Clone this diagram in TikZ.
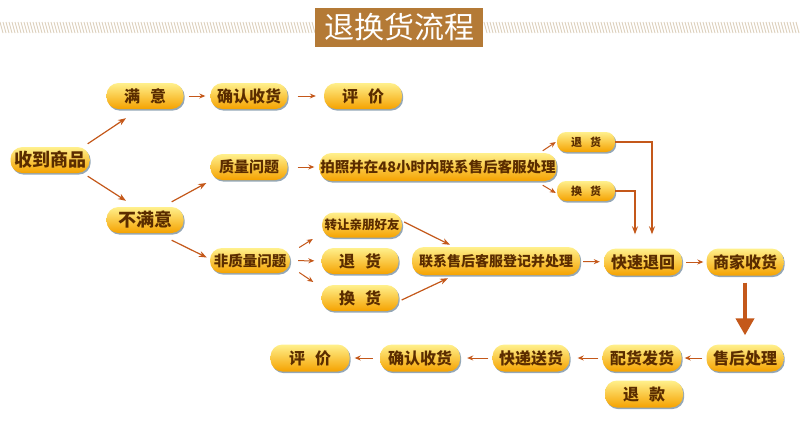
\documentclass[tikz,border=0pt]{standalone}
\usepackage{fontspec}
\setmainfont{Noto Sans CJK SC}
\usetikzlibrary{arrows.meta,shadows}
\definecolor{titlebrown}{HTML}{B47A36}
\definecolor{stripetan}{HTML}{DDD0BC}
\definecolor{pilltop}{HTML}{FFF08C}
\definecolor{pillmid}{HTML}{FFD22A}
\definecolor{pillbot}{HTML}{F5A200}
\definecolor{pilltext}{HTML}{5A2C00}
\definecolor{arrowrust}{HTML}{C4581A}
\definecolor{shadowblue}{HTML}{8298AA}

\begin{document}
\begin{tikzpicture}[x=1pt, y=-1pt,
    pill/.style={rounded corners=12pt, top color=pilltop, middle color=pillmid, bottom color=pillbot,
        text=pilltext, inner sep=0pt, minimum width=77pt, minimum height=26pt,
        font=\fontsize{16}{16}\selectfont\bfseries,
        drop shadow={shadow xshift=1.2pt, shadow yshift=-1.6pt, fill=shadowblue, opacity=0.85}},
    flow/.style={-{Stealth[length=8pt,width=6pt]}, arrowrust, line width=1.2pt},
    flowsmall/.style={-{Stealth[length=6pt,width=5pt]}, arrowrust, line width=1pt}]
    \useasboundingbox (0,0) rectangle (800,423);
    \fill[white] (0,0) rectangle (800,423);

    % Striped band behind the title
    \foreach \x in {0,3,...,312} {
        \draw[stripetan, line width=0.9pt] (\x,22) -- (\x+3,33);
    }
    \foreach \x in {484,487,...,797} {
        \draw[stripetan, line width=0.9pt] (\x,22) -- (\x+3,33);
    }
    \node (title) [fill=titlebrown, text=white, minimum width=168pt, minimum height=39pt, inner sep=0pt,
        font=\fontsize{30}{30}\selectfont] at (399,27.5) {退换货流程};

    % Start and satisfied branch
    \node (shou) [pill, minimum width=79pt, font=\fontsize{18}{18}\selectfont\bfseries] at (50,160) {收到商品};
    \node (manyi) [pill] at (145,96) {满\hspace{10pt}意};
    \node (qr1) [pill] at (249,96) {确认收货};
    \node (pj1) [pill, minimum width=78pt] at (363,96) {评\hspace{10pt}价};

    % Unsatisfied branch
    \node (bmy) [pill, font=\fontsize{18}{18}\selectfont\bfseries] at (145,220) {不满意};
    \node (zl) [pill, font=\fontsize{15}{15}\selectfont\bfseries] at (249,167) {质量问题};
    \node (fzl) [pill, minimum width=80pt, minimum height=25pt, font=\fontsize{14.5}{14.5}\selectfont\bfseries] at (250,260.5) {非质量问题};

    % Quality problem
    \node (pz) [pill, minimum width=237pt, minimum height=28pt, font=\fontsize{14.5}{14.5}\selectfont\bfseries] at (438,167) {拍照并在48小时内联系售后客服处理};
    \node (th1) [pill, minimum width=58pt, minimum height=20pt, rounded corners=9pt, font=\fontsize{11}{11}\selectfont\bfseries] at (586,142) {退\hspace{8pt}货};
    \node (hh1) [pill, minimum width=58pt, minimum height=20pt, rounded corners=9pt, font=\fontsize{11}{11}\selectfont\bfseries] at (586,191) {换\hspace{8pt}货};

    % Other problems
    \node (zr) [pill, minimum width=80pt, minimum height=25pt, font=\fontsize{12.5}{12.5}\selectfont\bfseries] at (362,225) {转让亲朋好友};
    \node (th2) [pill] at (360,261) {退\hspace{10pt}货};
    \node (hh2) [pill] at (360,298) {换\hspace{10pt}货};
    \node (lx) [pill, minimum width=168pt, minimum height=28pt, font=\fontsize{14}{14}\selectfont\bfseries] at (496,261) {联系售后客服登记并处理};

    % Return and after-sales
    \node (ks) [pill, minimum width=78pt, minimum height=27pt] at (643,262) {快速退回};
    \node (sj) [pill, minimum height=27pt] at (745,262) {商家收货};
    \node (sh) [pill, minimum height=27pt] at (745,358) {售后处理};
    \node (ph) [pill, minimum width=79pt, minimum height=27pt] at (642,358) {配货发货};
    \node (tk) [pill, minimum width=78pt, minimum height=27pt] at (644,394) {退\hspace{10pt}款};
    \node (kd) [pill, minimum height=27pt] at (531,358) {快递送货};
    \node (qr2) [pill, minimum width=80pt, minimum height=27pt] at (420,358) {确认收货};
    \node (pj2) [pill, minimum width=79pt, minimum height=27pt] at (310,358) {评\hspace{10pt}价};

    % Connectors, top row
    \draw[flowsmall, shorten <=5pt, shorten >=5pt] (manyi) -- (qr1);
    \draw[flowsmall, shorten <=10pt, shorten >=8pt] (qr1) -- (pj1);
    \draw[flow] ([shift={(-2,-3)}]shou.north east) -- ([shift={(-19,9)}]manyi.south);
    \draw[flow] ([shift={(-2,3)}]shou.south east) -- ([shift={(-19,-6)}]bmy.north);
    \draw[flow] ([shift={(-12,-5)}]bmy.north east) -- ([shift={(-4,16)}]zl.west);
    \draw[flow] ([shift={(-12,7)}]bmy.south east) -- ([shift={(-3,-3)}]fzl.west);
    \draw[flowsmall, shorten <=10pt, shorten >=5pt] (zl) -- (pz);

    % Connectors, middle
    \draw[flowsmall] ([shift={(9,-13)}]fzl.east) -- ([shift={(-9,14)}]zr.west);
    \draw[flowsmall, shorten <=8pt, shorten >=7pt] (fzl) -- (th2);
    \draw[flowsmall] ([shift={(9,12)}]fzl.east) -- ([shift={(-8,-16)}]hh2.west);
    \draw[flowsmall] ([shift={(-14,-2)}]pz.north east) -- ([shift={(-1,0)}]th1.west);
    \draw[flowsmall] ([shift={(-14,4)}]pz.south east) -- ([shift={(-1,2)}]hh1.west);
    \draw[flow] ([shift={(2,-3)}]zr.east) -- ([shift={(-46,-2)}]lx.north);
    \draw[flow] ([shift={(3,2)}]hh2.east) -- ([shift={(-48,3)}]lx.south);
    \draw[flowsmall, shorten <=3pt, shorten >=4pt] (lx) -- (ks);
    \draw[flowsmall, shorten <=4pt, shorten >=3pt] (ks) -- (sj);
    \draw[flow] (th1.east) -| ([shift={(9,-14)}]ks.north);
    \draw[flow] (hh1.east) -| ([shift={(-8,-14)}]ks.north);

    % Connectors, bottom row
    \draw[-{Triangle[length=17pt,width=18pt]}, arrowrust, line width=4pt, shorten <=7pt, shorten >=9pt] (sj) -- (sh);
    \draw[flowsmall, shorten <=4pt, shorten >=3pt] (sh) -- (ph);
    \draw[flowsmall, shorten <=4pt, shorten >=8pt] (ph) -- (kd);
    \draw[flowsmall, shorten <=4pt, shorten >=7pt] (kd) -- (qr2);
    \draw[flowsmall, shorten <=7pt, shorten >=5pt] (qr2) -- (pj2);
\end{tikzpicture}
\end{document}
